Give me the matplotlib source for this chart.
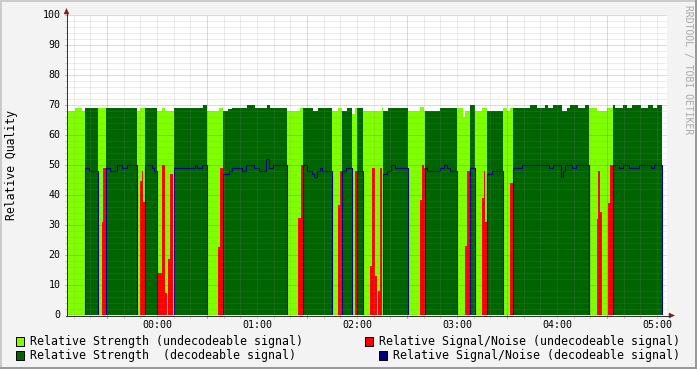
import numpy as np
import matplotlib
matplotlib.use("Agg")
import matplotlib.pyplot as plt
from matplotlib.patches import Rectangle, Polygon
from matplotlib.lines import Line2D

# ---------------- data (time in minutes relative to 00:00) ----------------
t_start, t_end = -54.0, 303.0

decode_start = [-43.4, -30.4, -7.4, 10.4, 39.4, 87.6, 110.8, 120.2, 135.6, 160.8, 187.6, 197.8, 213.4, 273.4]
decode_end = [-35.6, -12.2, 0.0, 30.2, 78.0, 104.8, 117.0, 123.6, 150.6, 180.2, 190.6, 207.4, 259.4, 303.0]

strength_t = [-54.0, -49.2, -45.2, -43.4, -12.2, -10.2, 0.0, 2.8, 4.8, 10.4, 27.4, 30.2, 37.4, 39.4,
              42.8, 44.8, 53.8, 58.8, 65.8, 67.8, 78.0, 85.8, 93.8, 96.8, 104.8, 108.8, 110.8, 113.8,
              117.0, 119.0, 123.6, 134.8, 135.6, 138.8, 150.6, 157.8, 160.2, 169.8, 183.4, 184.8,
              187.6, 190.6, 195.0, 197.8, 207.4, 209.8, 211.8, 223.8, 227.8, 232.8, 234.8, 237.8,
              242.8, 245.8, 247.8, 252.8, 256.8, 259.4, 263.8, 269.8, 273.4, 274.8, 279.8, 281.8,
              284.8, 290.2, 294.8, 297.8, 299.8]
strength_v = [68, 69, 68, 69, 68, 69, 68, 69, 68, 69, 70, 68, 69, 68,
              68.6, 69, 70, 69, 70, 69, 68, 69, 68, 69, 68, 69, 68, 69,
              67, 69, 68, 69, 68, 69, 68, 69.5, 68, 69, 66.1, 68,
              70, 68, 69, 68, 69, 68, 69, 70, 69, 70, 69, 70,
              68, 69, 70, 69, 70, 69, 68, 69, 70, 69, 70, 69,
              70, 69, 70, 69, 70]

snr_t = [-54.0, -43.4, -40.6, -35.6, -33.1, -32.4, -28.2, -23.8, -21.2, -18.2, -12.2, -10.2, -9.0,
         -8.2, -7.4, -3.2, -1.8, 0.0, 0.6, 3.0, 4.8, 6.2, 6.6, 8.0, 9.6, 10.4, 22.8, 24.2, 26.8,
         30.2, 36.6, 37.8, 39.4, 43.4, 44.8, 50.8, 53.4, 58.2, 61.4, 65.4, 67.4, 69.8, 78.0, 84.6,
         86.2, 89.8, 92.8, 94.2, 96.2, 97.8, 99.2, 104.8, 108.6, 109.8, 113.2, 117.0, 119.0, 123.6,
         127.8, 129.0, 130.6, 132.0, 132.6, 133.8, 135.2, 135.6, 138.0, 140.6, 142.6, 150.6, 157.8,
         159.0, 160.2, 162.2, 169.6, 172.2, 173.8, 175.6, 180.2, 185.0, 186.2, 187.6, 190.6, 195.0,
         196.0, 197.0, 197.8, 201.2, 207.4, 211.8, 213.4, 219.0, 235.4, 237.4, 242.4, 243.8, 245.0,
         249.0, 251.4, 259.4, 264.0, 264.6, 265.8, 267.0, 270.4, 271.8, 277.4, 279.4, 283.4, 289.0,
         296.4, 298.4]
snr_v = [0, 49, 48, 0, 31, 49, 48, 50, 49, 50, 0, 44.7, 48,
         37.6, 50, 49, 48, 10.5, 14, 50, 7.2, 0, 18.7, 47, 0, 49, 50, 49, 50,
         0, 22.7, 49, 47, 48, 49, 48, 50, 49, 48, 52, 49, 50, 0, 32.2,
         50, 48, 47, 46, 48, 49, 48, 0, 36.7, 48, 49, 0, 48, 0,
         16.4, 49, 13, 0, 8, 49, 0, 47, 48, 50, 49, 0, 38.3,
         50, 49, 48, 49, 50, 49, 48, 0, 23, 48, 49, 0, 39,
         48, 31, 47, 48, 0, 44, 49, 50, 49, 50, 46, 48, 50,
         49, 50, 0, 32, 48, 34.2, 0, 37.4, 50, 49, 50, 49, 50,
         49, 50]

hour_pos = [0, 60, 120, 180, 240, 300]
hour_labels = ["00:00", "01:00", "02:00", "03:00", "04:00", "05:00"]
y_major = [0, 10, 20, 30, 40, 50, 60, 70, 80, 90, 100]

legend_labels = ["Relative Strength (undecodeable signal)",
                 "Relative Signal/Noise (undecodeable signal)",
                 "Relative Strength  (decodeable signal)",
                 "Relative Signal/Noise (decodeable signal)"]
col_light = "#7FFF00"
col_dark = "#006400"
col_red = "#FF0000"
col_blue = "#000080"

# ---------------- build step series ----------------
edges = sorted(set(strength_t + snr_t + decode_start + decode_end + [t_end]))
tt = np.array([e for e in edges if t_start <= e <= t_end])


def step_eval(bt, bv, t):
    idx = np.searchsorted(np.array(bt), t, side="right") - 1
    idx = np.clip(idx, 0, len(bv) - 1)
    return np.array(bv, dtype=float)[idx]


s = step_eval(strength_t, strength_v, tt)
n = step_eval(snr_t, snr_v, tt)
dec = np.zeros(len(tt), dtype=bool)
for a, b in zip(decode_start, decode_end):
    dec |= (tt >= a - 1e-9) & (tt < b - 1e-9)

# ---------------- figure ----------------
W, H = 697, 369
PX = 0.72  # one pixel in points
fig = plt.figure(figsize=(W / 100, H / 100), dpi=100, facecolor="#F3F3F3")

X0, Y0 = 67, 315   # pixel position of plot origin
PW, PH = 600, 300
ax = fig.add_axes([X0 / W, (H - Y0) / H, PW / W, PH / H])
ax.set_facecolor("white")
ax.set_xlim(t_start, t_start + PW * 0.6)
ax.set_ylim(0, 100)
for sp in ax.spines.values():
    sp.set_visible(False)
ax.set_xticks([])
ax.set_yticks([])

ax.fill_between(tt, 0, np.where(~dec, s, 0), step="post", color=col_light, lw=0, zorder=2)
ax.fill_between(tt, 0, np.where(dec, s, 0), step="post", color=col_dark, lw=0, zorder=2)
ax.fill_between(tt, 0, np.where(~dec, n, 0), step="post", color=col_red, lw=0, zorder=3)
ax.step(tt, np.where(dec, n, 0), where="post", color=col_blue, lw=1.1 * PX, zorder=4)

# grid
grid_col = (0.55, 0.55, 0.55, 0.32)
mgrid_col = (0.51, 0.12, 0.12, 0.36)
dots = (0, (1, 1))
for v in range(2, 101, 2):
    c = mgrid_col if v % 10 == 0 else grid_col
    ax.axhline(v, color=c, lw=PX, ls=dots, zorder=5)
    ax.plot([-2.5 / PW, 0], [v, v], transform=ax.get_yaxis_transform(), color=c,
            lw=PX, clip_on=False, zorder=5)
vgrid = np.arange(-50, 305, 10)
for m in vgrid:
    c = mgrid_col if (m + 30) % 60 == 0 else grid_col
    ax.axvline(m, color=c, lw=PX, ls=dots, zorder=5)
    ax.plot([m, m], [-2.5 / PH, 0], transform=ax.get_xaxis_transform(), color=c,
            lw=PX, clip_on=False, zorder=5)

# tick labels
tick_font = dict(family="DejaVu Sans Mono", size=7.2, color="black")
for v in y_major:
    ax.text(-6.5 / PW, v, str(v), transform=ax.get_yaxis_transform(), ha="right",
            va="center", **tick_font)
for m, lab in zip(hour_pos, hour_labels):
    ax.text(m, -5.5 / PH, lab, transform=ax.get_xaxis_transform(), ha="center",
            va="top", **tick_font)

# axes lines and arrows (pixel coords)
def P(x, y):
    return (x, H - y)

axis_col = "#333333"
arrow_col = "#8B1A1A"
fig.add_artist(Line2D([P(66.5, 315)[0], P(66.5, 12)[0]], [P(66.5, 315)[1], P(66.5, 12)[1]],
                      transform=None, color=axis_col, lw=PX))
fig.add_artist(Line2D([P(66, 315.5)[0], P(670, 315.5)[0]], [P(66, 315.5)[1], P(670, 315.5)[1]],
                      transform=None, color=axis_col, lw=PX))
fig.add_artist(Polygon([P(64, 14), P(69, 14), P(66.5, 8.5)], closed=True, transform=None,
                       facecolor=arrow_col, edgecolor=arrow_col, lw=0.3))
fig.add_artist(Polygon([P(669, 313), P(669, 318), P(674.5, 315.5)], closed=True, transform=None,
                       facecolor=arrow_col, edgecolor=arrow_col, lw=0.3))

# frame shading
fig.add_artist(Rectangle((0, H - 2), W, 2, transform=None, facecolor="#CBCBCB", lw=0))
fig.add_artist(Rectangle((0, 0), 2, H, transform=None, facecolor="#CBCBCB", lw=0))
fig.add_artist(Rectangle((0, 0), W, 2, transform=None, facecolor="#999999", lw=0))
fig.add_artist(Rectangle((W - 2, 0), 2, H, transform=None, facecolor="#999999", lw=0))

# y-axis title and watermark
fig.text(12 / W, 1 - 165 / H, "Relative Quality", rotation=90, ha="center", va="center",
         family="DejaVu Sans Mono", size=8.3)
fig.text(688 / W, 1 - 5 / H, "RRDTOOL / TOBI OETIKER", rotation=270, ha="center", va="top",
         family="DejaVu Sans Mono", size=7.0, color="#A8A8A8")

# legend
leg_font = dict(family="DejaVu Sans Mono", size=8.4, color="black")
rows = [341, 355]
entries = [(0, "left", col_light, legend_labels[0]),
           (0, "right", col_red, legend_labels[1]),
           (1, "left", col_dark, legend_labels[2]),
           (1, "right", col_blue, legend_labels[3])]
for r, side, col, lab in entries:
    yc = rows[r]
    if side == "left":
        fig.text(30 / W, 1 - yc / H, lab, ha="left", va="center", **leg_font)
        sx = 15.5
    else:
        fig.text(680 / W, 1 - yc / H, lab, ha="right", va="center", **leg_font)
        sx = 680 - len(lab) * 6.98 - 15
    fig.add_artist(Rectangle(P(sx, yc + 4.5), 8, 9, transform=None, facecolor=col,
                             edgecolor="black", lw=PX))

fig.savefig("out.png", dpi=100, facecolor=fig.get_facecolor())
